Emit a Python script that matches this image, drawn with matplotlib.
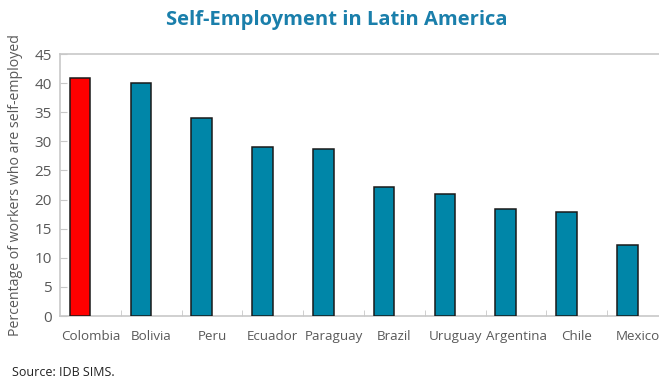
import matplotlib.pyplot as plt
import numpy as np

countries = ['Colombia', 'Bolivia', 'Peru', 'Ecuador', 'Paraguay',
             'Brazil', 'Uruguay', 'Argentina', 'Chile', 'Mexico']
self_employed = [40.8, 40.1, 34.0, 29.1, 28.6, 22.2, 21.0, 18.4, 17.8, 12.2]

plt.rcParams['font.family'] = ['Open Sans', 'DejaVu Sans']

teal = '#0086a8'
red = '#ff0000'
grey_txt = '#595959'
grey_line = '#c8c8c8'

fig = plt.figure(figsize=(6.59, 3.81), dpi=100)
ax = fig.add_axes([60 / 659, 1 - 316 / 381, 608 / 659, 262 / 381])

x = np.arange(len(countries))
colors = [red] + [teal] * (len(countries) - 1)
# bars sit a bit left of each category centre
ax.bar(x - 0.17, self_employed, width=0.34, color=colors,
       edgecolor='#1a1a1a', linewidth=1.1, zorder=3)

ax.set_xlim(-0.5, len(countries) - 0.5)
ax.set_ylim(0, 45)
ax.set_yticks(range(0, 46, 5))
ax.set_xticks(x)
ax.set_xticklabels(countries)
ax.set_xticks(np.arange(0.5, len(countries) - 0.5, 1), minor=True)

ax.tick_params(axis='x', which='major', length=0, pad=10,
               labelsize=9.6, labelcolor=grey_txt)
ax.tick_params(axis='x', which='minor', length=4, direction='in',
               color=grey_line)
ax.tick_params(axis='y', length=5, direction='in', color=grey_line,
               labelsize=11, labelcolor=grey_txt, pad=6)

# keep the last label inside the canvas
ax.get_xticklabels()[-1].set_x(len(countries) - 1.1)

for s in ax.spines.values():
    s.set_color(grey_line)
    s.set_linewidth(1.2)

ax.set_ylabel('Percentage of workers who are self-employed',
              fontsize=10.2, color=grey_txt, labelpad=8)

fig.text(337 / 659, 1 - 20 / 381, 'Self-Employment in Latin America',
         ha='center', va='center', fontsize=14.5, fontweight='bold',
         color='#1a7fab')
fig.text(12 / 659, 1 - 372 / 381, 'Source: IDB SIMS.',
         ha='left', va='center', fontsize=9, color='#222222')

fig.savefig('out.png', dpi=100)
